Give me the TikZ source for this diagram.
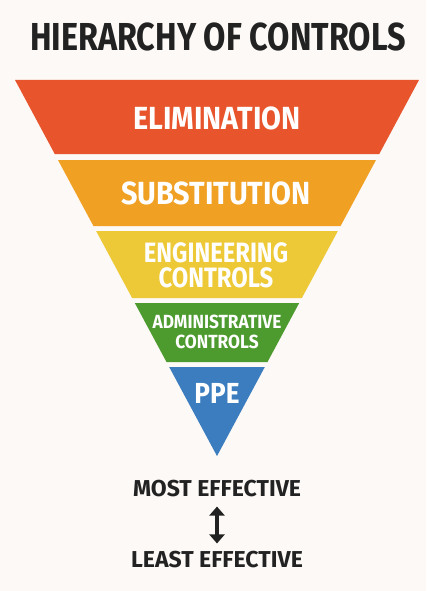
\documentclass[tikz,border=0pt]{standalone}
\usepackage{fontspec}
\setmainfont{Fira Sans}
\newfontfamily\titlefont{Fira Sans}[FakeStretch=0.83]
\newfontfamily\bandfont{Fira Sans}[FakeStretch=0.9]
\newfontfamily\narrowbandfont{Fira Sans}[FakeStretch=0.85]
\newfontfamily\smallbandfont{Fira Sans}[FakeStretch=0.91]
\newfontfamily\scalefont{Fira Sans}[FakeStretch=1.0]
\usepackage{tikz}
\usetikzlibrary{arrows.meta}

\definecolor{bgpaper}{HTML}{FCF9F6}
\definecolor{inkdark}{HTML}{222222}
\definecolor{elimred}{HTML}{E8542B}
\definecolor{substorange}{HTML}{F0A023}
\definecolor{enginyellow}{HTML}{EDC937}
\definecolor{admingreen}{HTML}{4D9A2F}
\definecolor{ppeblue}{HTML}{3B7DBE}

\tikzset{
  bandlabel/.style={text=white,align=center,inner sep=0pt},
  scalelabel/.style={text=inkdark,font=\scalefont\bfseries\fontsize{23}{26}\selectfont,inner sep=0pt}
}

\begin{document}
\begin{tikzpicture}[x=1pt,y=-1pt]
    % Canvas
    \useasboundingbox (0,0) rectangle (426,591);
    \fill[bgpaper] (0,0) rectangle (426,591);

    % Title
    \node[text=inkdark,font=\titlefont\bfseries\fontsize{39}{42}\selectfont,inner sep=0pt]
        (title) at (218,37) {HIERARCHY OF CONTROLS};

    % Inverted triangle, cut into bands
    \foreach \ya/\yb/\col in {80/154/elimred,160/226/substorange,231/298/enginyellow,
                              303/362/admingreen,367/456/ppeblue} {
        \pgfmathsetmacro\wa{0.5372*(456-\ya)}
        \pgfmathsetmacro\wb{0.5372*(456-\yb)}
        \fill[\col] (217-\wa,\ya) -- (217+\wa,\ya) -- (217+\wb,\yb) -- (217-\wb,\yb) -- cycle;
    }

    % Band labels
    \node[bandlabel,font=\bandfont\bfseries\fontsize{32}{34}\selectfont] (elim) at (217,118) {ELIMINATION};
    \node[bandlabel,font=\bandfont\bfseries\fontsize{32}{34}\selectfont] (subst) at (216,193) {SUBSTITUTION};
    \node[bandlabel,font=\narrowbandfont\bfseries\fontsize{28}{25}\selectfont] (engin) at (216,265) {ENGINEERING\\CONTROLS};
    \node[bandlabel,font=\smallbandfont\bfseries\fontsize{19}{20}\selectfont] (admin) at (217,332) {ADMINISTRATIVE\\CONTROLS};
    \node[bandlabel,font=\bandfont\bfseries\fontsize{29}{30}\selectfont] (ppe) at (217,393) {PPE};

    % Effectiveness scale
    \node[scalelabel] (most) at (217,489) {MOST EFFECTIVE};
    \node[scalelabel] (least) at (217,560) {LEAST EFFECTIVE};
    \draw[inkdark,line width=3.5pt,{Triangle[width=15pt,length=9pt]}-{Triangle[width=15pt,length=9pt]},
          shorten <=9pt,shorten >=8pt] (most.south) -- (least.north);
\end{tikzpicture}
\end{document}
